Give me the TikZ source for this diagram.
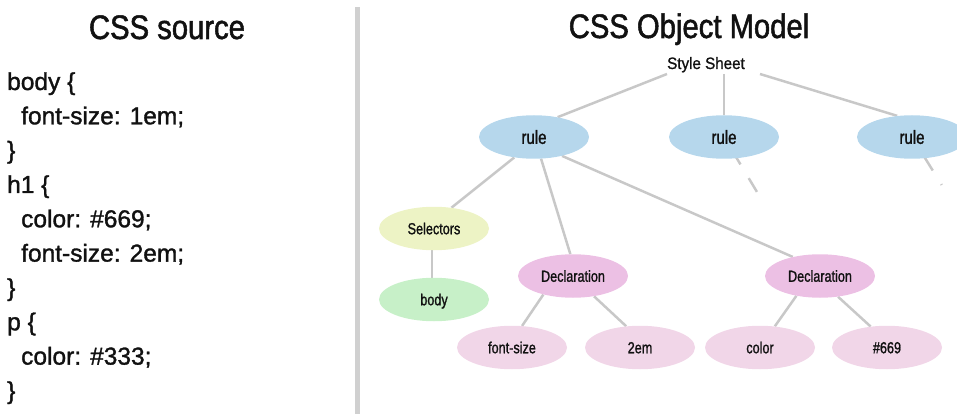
\documentclass[tikz,border=0pt]{standalone}
\usepackage{fontspec}
\setmainfont{Liberation Sans}[FakeBold=1.3]
\newfontfamily\titlefont{Liberation Sans}[FakeStretch=0.86,FakeBold=1.5]
\newfontfamily\nodefont{Liberation Sans}[FakeStretch=0.79,FakeBold=1.2]
\newfontfamily\ssfont{Liberation Sans}[FakeStretch=0.92,FakeBold=1.0]
\usetikzlibrary{shapes.geometric,backgrounds}
\definecolor{ruleblue}{RGB}{182,215,236}
\definecolor{selyellow}{RGB}{237,243,197}
\definecolor{bodygreen}{RGB}{199,240,200}
\definecolor{declpink}{RGB}{236,192,228}
\definecolor{leafpink}{RGB}{241,214,232}
\definecolor{edgegray}{RGB}{200,200,200}
\definecolor{divgray}{RGB}{208,208,208}
\definecolor{ink}{RGB}{17,17,17}
\tikzset{
  oval/.style={ellipse, minimum width=110pt, minimum height=43.5pt, inner sep=0pt,
    text=ink, font=\nodefont\fontsize{16}{18}\selectfont, text height=11.5pt, text depth=0pt},
  rulenode/.style={oval, fill=ruleblue, font=\nodefont\fontsize{19}{21}\selectfont, text height=13.7pt},
  selnode/.style={oval, fill=selyellow},
  bodynode/.style={oval, fill=bodygreen},
  declnode/.style={oval, fill=declpink},
  leafnode/.style={oval, fill=leafpink},
  link/.style={draw=edgegray, line width=2.5pt},
  dashlink/.style={link, dash pattern=on 16pt off 16pt},
  codeline/.style={anchor=base west, inner sep=0pt, text=ink, font=\fontsize{24.5}{28}\selectfont},
  titletext/.style={anchor=base, inner sep=0pt, text=ink, font=\titlefont\fontsize{34}{38}\selectfont},
  sstext/.style={anchor=base, inner sep=0pt, text=ink, font=\ssfont\fontsize{16.5}{18}\selectfont},
}
\begin{document}
\begin{tikzpicture}[x=1pt,y=-1pt]
\useasboundingbox (0,0) rectangle (957,414);
% divider
\fill[divgray] (354.5,7) rectangle (359.5,414);
% titles
\node[titletext] (t1) at (167,39) {CSS source};
\node[titletext] (t2) at (689,38) {CSS Object Model};
% code
\node[codeline] (c1) at (7,90) {body \{};
\node[codeline] (c2) at (21,124.3) {font-size: 1em;};
\node[codeline] (c3) at (7,158.6) {\}};
\node[codeline] (c4) at (7,193) {h1 \{};
\node[codeline] (c5) at (21,227.3) {color: \#669;};
\node[codeline] (c6) at (21,261.6) {font-size: 2em;};
\node[codeline] (c7) at (7,296) {\}};
\node[codeline] (c8) at (7,330.3) {p \{};
\node[codeline] (c9) at (21,364.6) {color: \#333;};
\node[codeline] (c10) at (7,399) {\}};
% tree
\node[sstext] (ss) at (706,69) {Style Sheet};
\coordinate (ssA) at (667,74);
\coordinate (ssB) at (724,74);
\coordinate (ssC) at (760,74);
\node[rulenode] (r1) at (534,137) {rule};
\node[rulenode] (r2) at (724,137) {rule};
\node[rulenode] (r3) at (912,137) {rule};
\node[selnode] (sel) at (434,228.5) {Selectors};
\node[bodynode] (bd) at (434,299.5) {body};
\node[declnode] (d1) at (573,276) {Declaration};
\node[declnode] (d2) at (820,276) {Declaration};
\node[leafnode] (fs) at (512,347.5) {font-size};
\node[leafnode] (em) at (640,347.5) {2em};
\node[leafnode] (col) at (760,347.5) {color};
\node[leafnode] (hex) at (887,347.5) {\#669};
\coordinate (e2) at (757,192);
\coordinate (e3) at (941.7,185);
\begin{scope}[on background layer]
\draw[link] (ssA) -- (r1.40);
\draw[link] (ssB) -- (r2.north);
\draw[link] (ssC) -- (r3.125);
\draw[link] (r1.226) -- (sel.50);
\draw[link] (r1.288) -- (d1.97);
\draw[link] (r1.326) -- (d2.145);
\draw[link] (sel.265) -- (bd.95);
\draw[link] (d1.212) -- (fs.65);
\draw[link] (d1.316) -- (em.123);
\draw[link] (d2.220) -- (col.55);
\draw[link] (d2.311) -- (hex.128);
\draw[dashlink, dash phase=16pt] (r2.center) -- (e2);
\draw[dashlink, dash phase=8.6pt] (r3.center) -- (e3);
\end{scope}
\end{tikzpicture}
\end{document}
